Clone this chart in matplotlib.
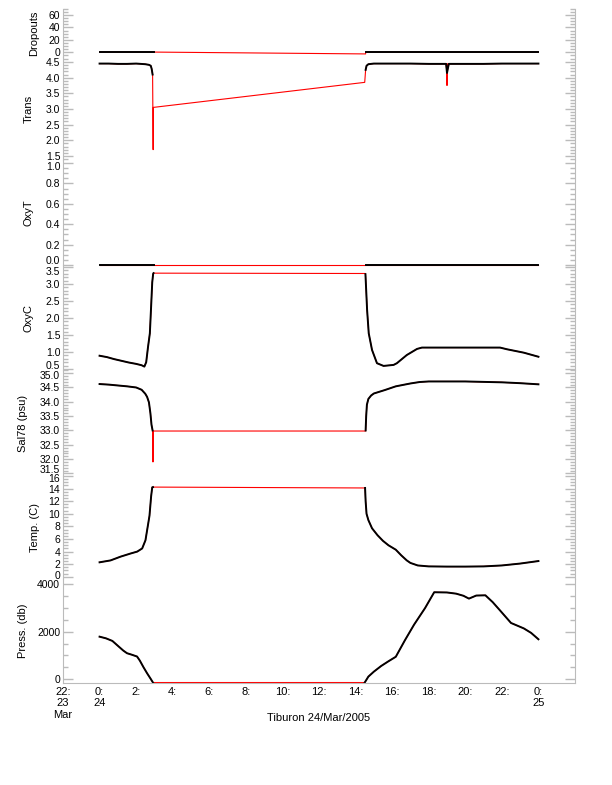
import matplotlib
matplotlib.use("Agg")
import matplotlib.pyplot as plt
import matplotlib.transforms as mtransforms
from matplotlib.ticker import MultipleLocator

plt.rcParams["font.family"] = ["Liberation Sans", "DejaVu Sans"]
plt.rcParams["font.size"] = 8

# time in hours from 24/Mar/2005 00:00
# dropouts
drop_t1 = [0.0, 2.95]
drop_v1 = [0, 0]
drop_gt = [2.95, 14.55]
drop_gv = [0, -3]
drop_t2 = [14.55, 24.0]
drop_v2 = [0, 0]

# transmissometer
trans_t1 = [0.0, 0.5, 1.0, 1.5, 2.0, 2.5, 2.7, 2.8, 2.85, 2.9]
trans_v1 = [4.45, 4.45, 4.44, 4.44, 4.45, 4.43, 4.41, 4.38, 4.28, 4.1]
trans_gt = [2.9, 2.93, 2.94, 14.5, 14.55]
trans_gv = [4.1, 1.7, 3.05, 3.85, 4.25]
trans_t2 = [14.55, 14.6, 14.7, 15.0, 16.0, 17.0, 18.0, 18.95, 19.0, 19.05, 19.1, 20.0, 21.0, 22.0, 23.0, 24.0]
trans_v2 = [4.25, 4.38, 4.43, 4.45, 4.45, 4.45, 4.44, 4.44, 4.15, 4.3, 4.44, 4.44, 4.44, 4.45, 4.45, 4.45]
# flagged raw spike (red only)
trans_rt = [18.97, 19.0, 19.03]
trans_rv = [4.44, 3.75, 4.44]

# oxygen temperature
oxyt_t1 = [0.0, 2.95]
oxyt_v1 = [0.0, 0.0]
oxyt_gt = [2.95, 14.55]
oxyt_gv = [0.0, 0.0]
oxyt_t2 = [14.55, 24.0]
oxyt_v2 = [0.0, 0.0]

# oxygen current
oxyc_t1 = [0.0, 0.4, 0.8, 1.2, 1.6, 2.0, 2.3, 2.45, 2.55, 2.65, 2.75, 2.82, 2.88, 2.93, 2.95]
oxyc_v1 = [0.89, 0.85, 0.79, 0.74, 0.69, 0.65, 0.61, 0.57, 0.70, 1.15, 1.55, 2.35, 3.05, 3.30, 3.32]
oxyc_gt = [2.95, 14.54]
oxyc_gv = [3.32, 3.31]
oxyc_t2 = [14.54, 14.63, 14.72, 14.9, 15.17, 15.53, 16.08, 16.26, 16.8, 17.36, 17.63, 19.0, 21.9, 22.28, 23.2, 24.0]
oxyc_v2 = [3.29, 2.24, 1.55, 1.06, 0.67, 0.59, 0.62, 0.67, 0.91, 1.09, 1.13, 1.13, 1.13, 1.08, 0.98, 0.86]

# salinity
sal_t1 = [0.0, 0.5, 1.0, 1.5, 2.0, 2.3, 2.5, 2.6, 2.7, 2.78, 2.84, 2.9]
sal_v1 = [34.62, 34.60, 34.57, 34.54, 34.50, 34.42, 34.28, 34.17, 33.98, 33.6, 33.2, 33.0]
sal_gt = [2.9, 2.92, 2.94, 14.55]
sal_gv = [33.0, 31.9, 32.98, 32.98]
sal_t2 = [14.55, 14.58, 14.62, 14.7, 14.85, 15.0, 15.6, 16.2, 17.0, 17.5, 18.0, 20.0, 22.0, 23.0, 24.0]
sal_v2 = [33.0, 33.5, 33.9, 34.1, 34.22, 34.29, 34.41, 34.54, 34.64, 34.69, 34.71, 34.71, 34.68, 34.65, 34.61]

# temperature
temp_t1 = [0.0, 0.6, 1.15, 1.7, 2.06, 2.33, 2.51, 2.64, 2.73, 2.82, 2.88, 2.92]
temp_v1 = [2.3, 2.6, 3.2, 3.7, 4.0, 4.5, 5.8, 8.1, 9.7, 12.8, 14.2, 14.24]
temp_gt = [2.92, 14.52]
temp_gv = [14.24, 14.1]
temp_t2 = [14.52, 14.55, 14.6, 14.7, 14.9, 15.2, 15.5, 15.8, 16.2, 16.5, 16.8, 17.0, 17.4, 18.0, 19.0, 20.0, 21.0, 22.0, 23.0, 24.0]
temp_v2 = [14.1, 12.0, 10.0, 9.0, 7.7, 6.6, 5.7, 5.0, 4.3, 3.4, 2.6, 2.2, 1.8, 1.65, 1.62, 1.62, 1.65, 1.8, 2.1, 2.5]

# pressure
pres_t1 = [0.0, 0.35, 0.7, 1.05, 1.3, 1.5, 1.75, 2.05, 2.2, 2.4, 2.6, 2.8, 2.92]
pres_v1 = [1790, 1720, 1610, 1370, 1200, 1090, 1030, 950, 780, 500, 240, 0, -150]
pres_gt = [2.92, 14.5]
pres_gv = [-150, -150]
pres_t2 = [14.5, 14.7, 15.0, 15.4, 15.8, 16.2, 16.7, 17.2, 17.8, 18.3, 19.0, 19.5, 19.9, 20.2, 20.6, 21.1, 21.5, 21.9, 22.5, 23.2, 23.6, 24.0]
pres_v2 = [-150, 100, 310, 550, 750, 940, 1640, 2300, 3000, 3670, 3660, 3610, 3520, 3400, 3530, 3540, 3250, 2900, 2370, 2140, 1950, 1680]

x_ticks = [-2, 0, 2, 4, 6, 8, 10, 12, 14, 16, 18, 20, 22, 24]
x_labels = ["22:\n23\nMar", "0:\n24", "2:", "4:", "6:", "8:", "10:", "12:", "14:",
            "16:", "18:", "20:", "22:", "0:\n25"]

gray = "#bbbbbb"
W, H = 612, 785
left_px, right_px = 63, 575

# name, top px, bottom px, ylim, major ticks, minor step, fmt, label x px,
# (top label nudge, bottom label nudge) in px, data, extra red
panels = [
    ("Dropouts", 9, 57, (-8, 70), [0, 20, 40, 60], 5, "%d", 39, (0, 0),
     (drop_t1, drop_v1, drop_gt, drop_gv, drop_t2, drop_v2), None),
    ("Trans", 57, 160, (1.37, 4.66), [1.5, 2.0, 2.5, 3.0, 3.5, 4.0, 4.5], 0.1, "%.1f", 34, (0, 0),
     (trans_t1, trans_v1, trans_gt, trans_gv, trans_t2, trans_v2), (trans_rt, trans_rv)),
    ("OxyT", 160, 265, (0.0, 1.03), [0.0, 0.2, 0.4, 0.6, 0.8, 1.0], 0.05, "%.1f", 34, (3, 5),
     (oxyt_t1, oxyt_v1, oxyt_gt, oxyt_gv, oxyt_t2, oxyt_v2), None),
    ("OxyC", 265, 370, (0.47, 3.56), [0.5, 1.0, 1.5, 2.0, 2.5, 3.0, 3.5], 0.1, "%.1f", 34, (4, 4),
     (oxyc_t1, oxyc_v1, oxyc_gt, oxyc_gv, oxyc_t2, oxyc_v2), None),
    ("Sal78 (psu)", 370, 476, (31.41, 35.11), [31.5, 32.0, 32.5, 33.0, 33.5, 34.0, 34.5, 35.0], 0.1, "%.1f", 28, (2, 4),
     (sal_t1, sal_v1, sal_gt, sal_gv, sal_t2, sal_v2), None),
    ("Temp. (C)", 476, 579, (-0.35, 16.0), [0, 2, 4, 6, 8, 10, 12, 14, 16], 0.5, "%d", 40, (2, 2),
     (temp_t1, temp_v1, temp_gt, temp_gv, temp_t2, temp_v2), None),
    ("Press. (db)", 579, 683, (-170, 4230), [0, 2000, 4000], 500, "%d", 28, (0, 0),
     (pres_t1, pres_v1, pres_gt, pres_gv, pres_t2, pres_v2), None),
]

fig = plt.figure(figsize=(W / 100, H / 100), dpi=100)

for i, (name, top, bot, ylim, major, minor, fmt, lab_x, nudge, data, extra) in enumerate(panels):
    ax = fig.add_axes([left_px / W, 1 - bot / H, (right_px - left_px) / W, (bot - top) / H])
    t1, v1, gt, gv, t2, v2 = data
    # raw series in red, good data in black on top
    ax.plot(t1 + gt + t2, v1 + gv + v2, color="red", lw=0.8, clip_on=False)
    if extra is not None:
        ax.plot(extra[0], extra[1], color="red", lw=0.8, clip_on=False)
    ax.plot(t1, v1, color="black", lw=1.4, clip_on=False)
    ax.plot(t2, v2, color="black", lw=1.4, clip_on=False)

    ax.set_xlim(-2, 26)
    ax.set_ylim(*ylim)
    ax.set_yticks(major)
    ax.set_yticklabels([fmt % v for v in major])
    ax.yaxis.set_minor_locator(MultipleLocator(minor))
    ax.tick_params(axis="y", which="both", direction="in", left=True, right=True,
                   color=gray, pad=2, labelsize=7.5)
    ax.tick_params(axis="y", which="major", length=7, width=1)
    ax.tick_params(axis="y", which="minor", length=3.5, width=1)

    # push the end labels inward a little so neighbouring panels don't collide
    labs = ax.get_yticklabels()
    if nudge[0]:
        labs[-1].set_transform(labs[-1].get_transform() +
                               mtransforms.ScaledTranslation(0, -nudge[0] / 100, fig.dpi_scale_trans))
    if nudge[1]:
        labs[0].set_transform(labs[0].get_transform() +
                              mtransforms.ScaledTranslation(0, nudge[1] / 100, fig.dpi_scale_trans))

    ax.set_ylabel(name, fontsize=8)
    ax.yaxis.set_label_coords((lab_x - left_px) / (right_px - left_px), 0.5)

    for s in ["left", "right"]:
        ax.spines[s].set_color(gray)
    ax.spines["top"].set_visible(False)
    ax.set_facecolor("none")

    if i == len(panels) - 1:
        ax.spines["bottom"].set_color(gray)
        ax.set_xticks(x_ticks)
        ax.set_xticklabels(x_labels, linespacing=1.15)
        ax.tick_params(axis="x", length=0, pad=3, labelsize=8)
    else:
        ax.spines["bottom"].set_visible(False)
        ax.set_xticks([])

fig.text(319 / W, 1 - 718 / H, "Tiburon 24/Mar/2005", ha="center", va="center", fontsize=8)

fig.savefig("out.png", dpi=100)
plt.close(fig)
